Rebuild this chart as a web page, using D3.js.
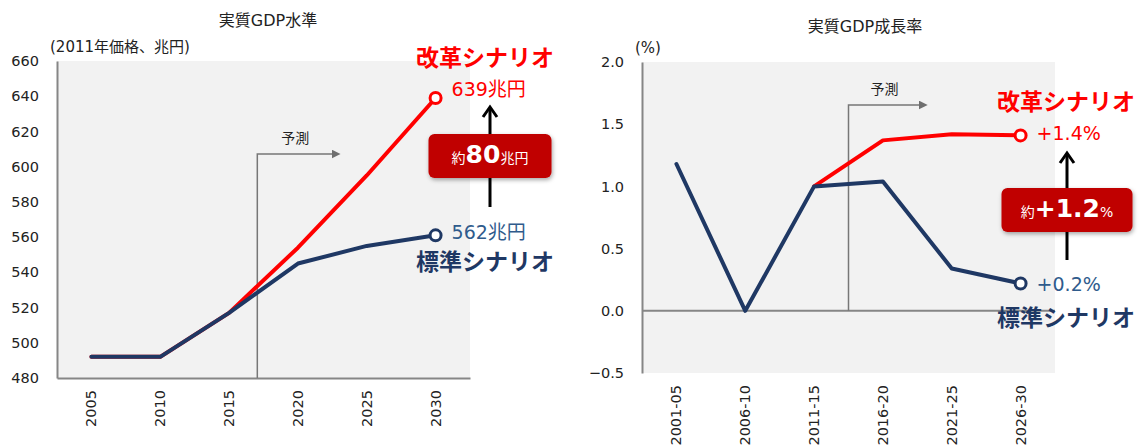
<!DOCTYPE html>
<html>
<head>
<meta charset="utf-8">
<script src="https://cdn.jsdelivr.net/npm/d3@7"></script>
<style>
  body { margin: 0; background: #fff; }
  text { font-family: "DejaVu Sans", "Noto Sans CJK JP", sans-serif; }
</style>
</head>
<body>
<script>
// data for the level chart (left)
var years = ["2005", "2010", "2015", "2020", "2025", "2030"];
var levelStandard = [492, 492, 517, 545, 555, 561];
var levelReform = [492, 492, 517, 554, 595, 639];
var levelTicks = [480, 500, 520, 540, 560, 580, 600, 620, 640, 660];

// data for the growth chart (right)
var periods = ["2001-05", "2006-10", "2011-15", "2016-20", "2021-25", "2026-30"];
var growthStandard = [1.18, 0.0, 1.0, 1.04, 0.34, 0.22];
var growthReform = [null, null, 1.0, 1.37, 1.42, 1.41];
var growthTicks = [-0.5, 0.0, 0.5, 1.0, 1.5, 2.0];

var RED = "#ff0000", NAVY = "#1f3864", LABELBLUE = "#2f5b8c", GRAY = "#868686";

var svg = d3.select("body").append("svg")
    .attr("width", 1139)
    .attr("height", 445);

var defs = svg.append("defs");
defs.append("filter").attr("id", "shadow")
    .attr("x", "-20%").attr("y", "-20%").attr("width", "140%").attr("height", "160%")
  .append("feDropShadow")
    .attr("dx", 1).attr("dy", 2).attr("stdDeviation", 2)
    .attr("flood-color", "#000").attr("flood-opacity", 0.35);
defs.append("marker").attr("id", "grayArrow")
    .attr("viewBox", "0 0 10 10").attr("refX", 2).attr("refY", 5)
    .attr("markerWidth", 6).attr("markerHeight", 6).attr("orient", "auto")
  .append("path").attr("d", "M0,0 L10,5 L0,10 z").attr("fill", "#6f6f6f");

// draws one chart panel
function drawPanel(opt) {
  var g = svg.append("g");
  var x = d3.scaleBand().domain(opt.cats).range([opt.left, opt.right]);
  var y = d3.scaleLinear().domain(opt.domain).range([opt.bottom, opt.top]);
  var cx = function(i) { return x(opt.cats[i]) + x.bandwidth() / 2; };

  // plot background
  g.append("rect")
      .attr("x", opt.left).attr("y", opt.top)
      .attr("width", opt.right - opt.left).attr("height", opt.bottom - opt.top)
      .attr("fill", "#f2f2f2");

  // y axis
  var ya = g.append("g")
      .attr("transform", "translate(" + opt.left + ",0)")
      .call(d3.axisLeft(y).tickValues(opt.ticks).tickSize(0).tickPadding(18).tickFormat(opt.fmt));
  ya.select(".domain").attr("stroke", GRAY).attr("stroke-width", 2);
  ya.selectAll("text").attr("fill", "#222").style("font-size", "14.5px");

  // x axis
  var xa = g.append("g")
      .attr("transform", "translate(0," + opt.bottom + ")")
      .call(d3.axisBottom(x).tickSize(0).tickSizeOuter(0));
  if (opt.zeroLine) xa.select(".domain").remove();
  else xa.select(".domain").attr("stroke", GRAY).attr("stroke-width", 2);
  xa.selectAll("text")
      .attr("fill", "#222")
      .style("font-size", "14.5px")
      .style("text-anchor", "end")
      .attr("transform", "rotate(-90)")
      .attr("x", -12).attr("y", 0).attr("dy", "0.35em");

  if (opt.zeroLine) {
    g.append("line")
        .attr("x1", opt.left).attr("x2", opt.right)
        .attr("y1", y(0)).attr("y2", y(0))
        .attr("stroke", GRAY).attr("stroke-width", 2);
  }

  // forecast marker
  var fx = cx(opt.fcIndex) + x.step() * opt.fcFrac;
  var base = opt.zeroLine ? y(0) : opt.bottom;
  g.append("path")
      .attr("d", "M" + fx + "," + base + "V" + opt.fcTop + "H" + (fx + opt.fcLen))
      .attr("fill", "none").attr("stroke", "#777").attr("stroke-width", 1.5)
      .attr("marker-end", "url(#grayArrow)");
  g.append("text")
      .attr("x", fx + opt.fcLen / 2).attr("y", opt.fcTop - 16)
      .attr("text-anchor", "middle").attr("dy", "0.35em")
      .style("font-size", "14px").attr("fill", "#222")
      .text("予測");

  // series lines
  var line = d3.line()
      .defined(function(d) { return d != null; })
      .x(function(d, i) { return cx(i); })
      .y(function(d) { return y(d); });
  [[opt.reform, RED], [opt.standard, NAVY]].forEach(function(s) {
    g.append("path")
        .datum(s[0])
        .attr("d", line)
        .attr("fill", "none").attr("stroke", s[1]).attr("stroke-width", 4)
        .attr("stroke-linejoin", "round").attr("stroke-linecap", "round");
    var last = s[0].length - 1;
    g.append("circle")
        .attr("cx", cx(last)).attr("cy", y(s[0][last])).attr("r", 5.5)
        .attr("fill", "#fff").attr("stroke", s[1]).attr("stroke-width", 3);
  });

  // titles
  g.append("text").attr("x", opt.titleX).attr("y", opt.titleY)
      .attr("text-anchor", "middle").attr("dy", "0.35em")
      .style("font-size", "16px").attr("fill", "#222").text(opt.title);
  g.append("text").attr("x", opt.unitX).attr("y", opt.top - 14)
      .attr("dy", "0.35em")
      .style("font-size", "15px").attr("fill", "#222").text(opt.unit);

  // end labels
  var last = opt.cats.length - 1;
  var lx = cx(last) + 16;
  var ry = y(opt.reform[last]), sy = y(opt.standard[last]);
  g.append("text").attr("x", lx).attr("y", ry + opt.off[0]).attr("dy", "0.35em")
      .style("font-size", "19px").attr("fill", RED).text(opt.reformLabel);
  g.append("text").attr("x", lx).attr("y", sy + opt.off[1]).attr("dy", "0.35em")
      .style("font-size", "19px").attr("fill", LABELBLUE).text(opt.standardLabel);
  g.append("text").attr("x", opt.nameX).attr("y", ry + opt.off[2]).attr("dy", "0.35em")
      .style("font-size", "23px").style("font-weight", "bold").attr("fill", RED)
      .text("改革シナリオ");
  g.append("text").attr("x", opt.nameX).attr("y", sy + opt.off[3]).attr("dy", "0.35em")
      .style("font-size", "23px").style("font-weight", "bold").attr("fill", NAVY)
      .text("標準シナリオ");

  // difference arrow and box
  var ax = opt.arrowX;
  g.append("line")
      .attr("x1", ax).attr("x2", ax).attr("y1", opt.arrowBottom).attr("y2", opt.arrowTop + 2)
      .attr("stroke", "#000").attr("stroke-width", 3);
  g.append("path")
      .attr("d", "M" + (ax - 7) + "," + (opt.arrowTop + 10) + "L" + ax + "," + opt.arrowTop + "L" + (ax + 7) + "," + (opt.arrowTop + 10))
      .attr("fill", "none").attr("stroke", "#000").attr("stroke-width", 3);
  g.append("rect")
      .attr("x", ax - opt.boxW / 2).attr("y", opt.boxY)
      .attr("width", opt.boxW).attr("height", 44).attr("rx", 6)
      .attr("fill", "#c00000").attr("filter", "url(#shadow)");
  var bt = g.append("text").attr("x", ax).attr("y", opt.boxY + 23).attr("dy", "0.35em")
      .attr("text-anchor", "middle").attr("fill", "#fff");
  opt.boxParts.forEach(function(p) {
    bt.append("tspan").style("font-size", p[1] + "px")
        .style("font-weight", p[2] ? "bold" : "normal").text(p[0]);
  });
}

drawPanel({
  cats: years, standard: levelStandard, reform: levelReform,
  domain: [480, 660], ticks: levelTicks, fmt: d3.format("d"),
  left: 57, right: 470, top: 61, bottom: 378, zeroLine: false,
  fcIndex: 2, fcFrac: 0.41, fcTop: 154, fcLen: 76,
  title: "実質GDP水準", titleX: 268, titleY: 20,
  unit: "(2011年価格、兆円)", unitX: 50,
  reformLabel: "639兆円", standardLabel: "562兆円", nameX: 416,
  off: [-9, -3, -40, 27],
  arrowX: 490, arrowTop: 107, arrowBottom: 207, boxY: 134, boxW: 123,
  boxParts: [["約", 14, false], ["80", 25, true], ["兆円", 14, false]]
});

drawPanel({
  cats: periods, standard: growthStandard, reform: growthReform,
  domain: [-0.5, 2.0], ticks: growthTicks, fmt: d3.format(".1f"),
  left: 642, right: 1055, top: 62, bottom: 373, zeroLine: true,
  fcIndex: 2, fcFrac: 0.5, fcTop: 105, fcLen: 72,
  title: "実質GDP成長率", titleX: 865, titleY: 26,
  unit: "(%)", unitX: 635,
  reformLabel: "+1.4%", standardLabel: "+0.2%", nameX: 997,
  off: [-2, 1, -33, 35],
  arrowX: 1067, arrowTop: 153, arrowBottom: 260, boxY: 188, boxW: 131,
  boxParts: [["約", 14, false], ["+1.2", 25, true], ["%", 14, false]]
});
</script>
</body>
</html>
